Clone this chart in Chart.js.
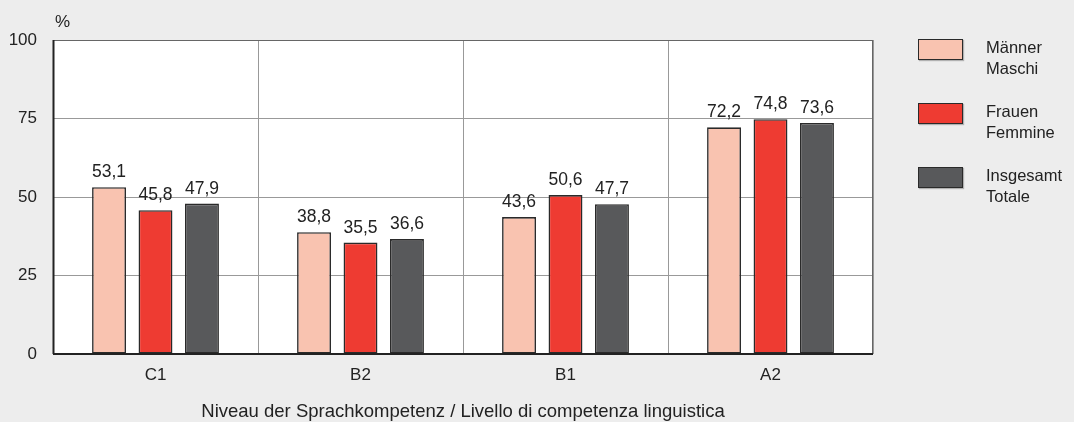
<!DOCTYPE html>
<html>
<head>
<meta charset="utf-8">
<script src="https://cdn.jsdelivr.net/npm/chart.js@4/dist/chart.umd.min.js"></script>
<style>
  html, body { margin: 0; padding: 0; background: #ededed; }
  #wrap { position: relative; width: 1074px; height: 422px; font-family: "Liberation Sans", Arial, sans-serif; }
  #legend { position: absolute; left: 918px; top: 37px; }
  .item { position: relative; height: 64px; }
  .box { position: absolute; left: 0; top: 2px; width: 43px; height: 19px; border: 1px solid #2a2a2a; box-shadow: 1px 1px 1px rgba(0,0,0,0.25); }
  .txt { position: absolute; left: 68px; top: 0; font-size: 16.5px; line-height: 21px; color: #222; white-space: nowrap; }
</style>
</head>
<body>
<div id="wrap">
  <canvas id="lang-chart" width="1074" height="422"></canvas>
  <div id="legend"></div>
</div>
<script>
const categories = ['C1', 'B2', 'B1', 'A2'];
const seriesNames = [['Männer', 'Maschi'], ['Frauen', 'Femmine'], ['Insgesamt', 'Totale']];
const maenner = [53.1, 38.8, 43.6, 72.2];
const frauen = [45.8, 35.5, 50.6, 74.8];
const insgesamt = [47.9, 36.6, 47.7, 73.6];
const yTicks = [0, 25, 50, 75, 100];
const colors = ['#f9c3b0', '#ee3b32', '#58595b'];
const xTitle = 'Niveau der Sprachkompetenz / Livello di competenza linguistica';

const fontName = '"Liberation Sans", Arial, sans-serif';

// legend as html, two lines per entry
const legendEl = document.getElementById('legend');
seriesNames.forEach((n, i) => {
  const item = document.createElement('div');
  item.className = 'item';
  item.innerHTML = '<div class="box" style="background:' + colors[i] + '"></div><div class="txt">' + n.join('<br>') + '</div>';
  legendEl.appendChild(item);
});

const extras = {
  id: 'extras',
  beforeDraw(chart) {
    const { ctx, chartArea: a } = chart;
    ctx.save();
    ctx.fillStyle = '#ffffff';
    ctx.fillRect(a.left, a.top, a.right - a.left, a.bottom - a.top);
    ctx.restore();
  },
  afterDatasetsDraw(chart) {
    const { ctx, chartArea: a } = chart;
    ctx.save();
    ctx.strokeStyle = '#666';
    ctx.lineWidth = 1;
    ctx.strokeRect(a.left + 0.5, a.top + 0.5, a.right - a.left - 1, a.bottom - a.top);
    ctx.strokeStyle = '#222';
    ctx.lineWidth = 2;
    ctx.beginPath();
    ctx.moveTo(a.left, a.bottom);
    ctx.lineTo(a.right, a.bottom);
    ctx.moveTo(a.left + 0.5, a.top);
    ctx.lineTo(a.left + 0.5, a.bottom);
    ctx.stroke();
    // value labels
    ctx.font = '17.5px ' + fontName;
    ctx.fillStyle = '#222';
    ctx.textAlign = 'center';
    ctx.textBaseline = 'bottom';
    chart.data.datasets.forEach((ds, di) => {
      chart.getDatasetMeta(di).data.forEach((bar, i) => {
        ctx.fillText(ds.data[i].toFixed(1).replace('.', ','), bar.x, bar.y - 6);
      });
    });
    // axis titles
    ctx.font = '17px ' + fontName;
    ctx.textAlign = 'left';
    ctx.textBaseline = 'middle';
    ctx.fillText('%', a.left + 2, 22);
    ctx.font = '18.5px ' + fontName;
    ctx.textAlign = 'center';
    ctx.fillText(xTitle, 463, 412);
    ctx.restore();
  }
};

const ctx = document.getElementById('lang-chart').getContext('2d');
const myChart = new Chart(ctx, {
  type: 'bar',
  data: {
    labels: categories,
    datasets: seriesNames.map((n, i) => ({
      label: n.join(' '),
      data: [maenner, frauen, insgesamt][i],
      backgroundColor: colors[i],
      borderColor: '#2a2a2a',
      borderWidth: 1.6,
      borderSkipped: false,
      categoryPercentage: 0.68,
      barPercentage: 0.73
    }))
  },
  options: {
    responsive: false,
    animation: false,
    layout: { padding: { top: 40, right: 201, left: 0, bottom: 0 } },
    plugins: { legend: { display: false }, tooltip: { enabled: false } },
    scales: {
      x: {
        grid: { color: '#999', drawTicks: false, offset: true },
        border: { display: false },
        ticks: { color: '#222', font: { size: 17, family: fontName }, padding: 11 },
        afterFit: (s) => { s.height = 68; }
      },
      y: {
        min: 0,
        max: 100,
        afterBuildTicks: (s) => { s.ticks = yTicks.map(v => ({ value: v })); },
        grid: { color: '#999', drawTicks: false },
        border: { display: false },
        ticks: { color: '#222', font: { size: 17, family: fontName }, padding: 16 },
        afterFit: (s) => { s.width = 53; }
      }
    }
  },
  plugins: [extras]
});
</script>
</body>
</html>
